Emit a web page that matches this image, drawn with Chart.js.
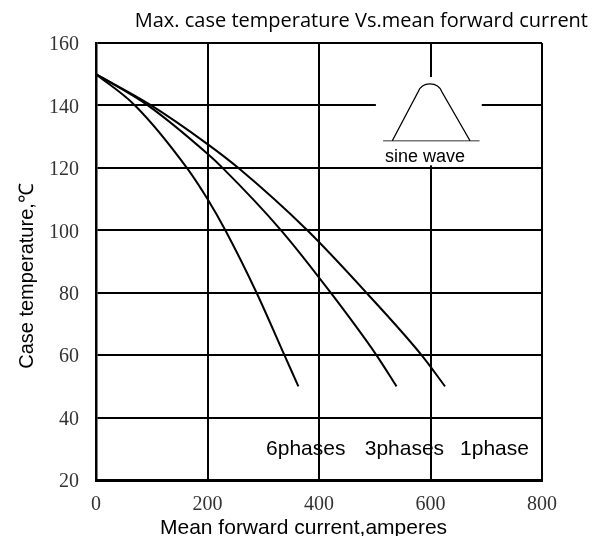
<!DOCTYPE html>
<html>
<head>
<meta charset="utf-8">
<script src="https://cdn.jsdelivr.net/npm/chart.js@4/dist/chart.umd.min.js"></script>
<style>
  html, body { margin: 0; padding: 0; background: #fff; }
  #wrap { width: 602px; height: 536px; }
</style>
</head>
<body>
<div id="wrap"><canvas id="chart" width="602" height="536"></canvas></div>
<script>
// values (x = mean forward current A, y = case temperature °C)
const xTicks = [0, 200, 400, 600, 800]
const yTicks = [20, 40, 60, 80, 100, 120, 140, 160]

const sixPhaseX = [0, 70, 163, 200, 232, 288, 338, 363]
const sixPhaseY = [150, 140, 120, 110, 100, 80, 60, 50]

const threePhaseX = [0, 93, 200, 227, 332, 421, 503, 539]
const threePhaseY = [150, 140, 124.5, 120, 100, 80, 60, 50]

const onePhaseX = [0, 99, 200, 255, 379, 485, 584, 626]
const onePhaseY = [150, 140, 127.6, 120, 100, 80, 60, 50]

const seriesLabels = ["6phases", "3phases", "1phase"]
const labelX = [305, 482, 653]
const labelY = 28

const toPoints = (xs, ys) => xs.map((x, i) => ({ x, y: ys[i] }))

const lineStyle = {
  borderColor: "#000",
  borderWidth: 2,
  pointRadius: 0,
  showLine: true,
  fill: false,
  cubicInterpolationMode: "monotone"
}

// white box with the sine-wave sketch, placed with the chart scales
const insetPlugin = {
  id: "sineInset",
  beforeDatasetsDraw(chart) {
    const { ctx, scales: { x, y } } = chart
    ctx.save()
    ctx.fillStyle = "#fff"
    const bx0 = x.getPixelForValue(502), bx1 = x.getPixelForValue(692)
    const by0 = y.getPixelForValue(149.1), by1 = y.getPixelForValue(120.8)
    ctx.fillRect(bx0, by0, bx1 - bx0, by1 - by0)

    // baseline
    ctx.strokeStyle = "#777"
    ctx.lineWidth = 1.5
    ctx.beginPath()
    ctx.moveTo(x.getPixelForValue(515), y.getPixelForValue(128.7))
    ctx.lineTo(x.getPixelForValue(688), y.getPixelForValue(128.7))
    ctx.stroke()

    // half sine: straight flanks, rounded top
    const base = y.getPixelForValue(128.7)
    const shoulder = y.getPixelForValue(144.3)
    const peak = y.getPixelForValue(147.3)
    const mid = x.getPixelForValue(599)
    ctx.strokeStyle = "#000"
    ctx.lineWidth = 1.3
    ctx.beginPath()
    ctx.moveTo(x.getPixelForValue(531.5), base)
    ctx.lineTo(x.getPixelForValue(577.6), shoulder)
    ctx.bezierCurveTo(mid - 8, peak - 1.5, mid + 8, peak - 1.5, x.getPixelForValue(620.6), shoulder)
    ctx.lineTo(x.getPixelForValue(670.9), base)
    ctx.stroke()

    ctx.fillStyle = "#000"
    ctx.font = "18px 'Liberation Sans', Arial, sans-serif"
    ctx.textAlign = "left"
    ctx.textBaseline = "alphabetic"
    ctx.fillText("sine wave", x.getPixelForValue(518.4), y.getPixelForValue(122))
    ctx.restore()
  },
  afterDatasetsDraw(chart) {
    const { ctx, scales: { x, y } } = chart
    ctx.save()
    ctx.fillStyle = "#000"
    ctx.font = "21px 'Liberation Sans', Arial, sans-serif"
    ctx.textAlign = "left"
    ctx.textBaseline = "alphabetic"
    seriesLabels.forEach((label, i) => {
      ctx.fillText(label, x.getPixelForValue(labelX[i]), y.getPixelForValue(labelY))
    })
    ctx.restore()
  },
  afterDraw(chart) {
    const { ctx } = chart
    ctx.save()
    ctx.fillStyle = "#000"
    ctx.textBaseline = "alphabetic"

    ctx.font = "20px 'Open Sans', 'Noto Sans', sans-serif"
    ctx.textAlign = "right"
    ctx.fillText("Max. case temperature Vs.mean forward current", 588, 27)

    ctx.font = "21px 'Liberation Sans', Arial, sans-serif"
    ctx.textAlign = "left"
    ctx.fillText("Mean forward current,amperes", 160, 534)

    ctx.font = "20px 'Liberation Sans', Arial, sans-serif"
    ctx.textAlign = "center"
    ctx.textBaseline = "middle"
    ctx.translate(27, 276)
    ctx.rotate(-Math.PI / 2)
    ctx.fillText("Case temperature,℃", 0, 0)
    ctx.restore()
  }
}

new Chart(document.getElementById("chart"), {
  type: "scatter",
  data: {
    datasets: [
      { label: seriesLabels[0], data: toPoints(sixPhaseX, sixPhaseY), ...lineStyle },
      { label: seriesLabels[1], data: toPoints(threePhaseX, threePhaseY), ...lineStyle },
      { label: seriesLabels[2], data: toPoints(onePhaseX, onePhaseY), ...lineStyle }
    ]
  },
  options: {
    responsive: false,
    animation: false,
    layout: { padding: { top: 43, right: 60, left: 0, bottom: 0 } },
    plugins: { legend: { display: false }, tooltip: { enabled: false } },
    scales: {
      x: {
        type: "linear",
        min: xTicks[0],
        max: xTicks[xTicks.length - 1],
        afterBuildTicks: (axis) => { axis.ticks = xTicks.map((v) => ({ value: v })) },
        afterFit: (axis) => { axis.height = 56 },
        grid: { color: "#000", lineWidth: 2, drawTicks: false },
        border: { color: "#000", width: 3 },
        ticks: {
          color: "#333",
          padding: 13,
          font: { family: "'Liberation Serif', 'Times New Roman', serif", size: 20 }
        }
      },
      y: {
        type: "linear",
        min: yTicks[0],
        max: yTicks[yTicks.length - 1],
        afterBuildTicks: (axis) => { axis.ticks = yTicks.map((v) => ({ value: v })) },
        afterFit: (axis) => { axis.width = 96 },
        grid: { color: "#000", lineWidth: 2, drawTicks: false },
        border: { color: "#000", width: 2.5 },
        ticks: {
          color: "#333",
          padding: 17,
          labelOffset: 2,
          font: { family: "'Liberation Serif', 'Times New Roman', serif", size: 20 }
        }
      }
    }
  },
  plugins: [insetPlugin]
})
</script>
</body>
</html>
